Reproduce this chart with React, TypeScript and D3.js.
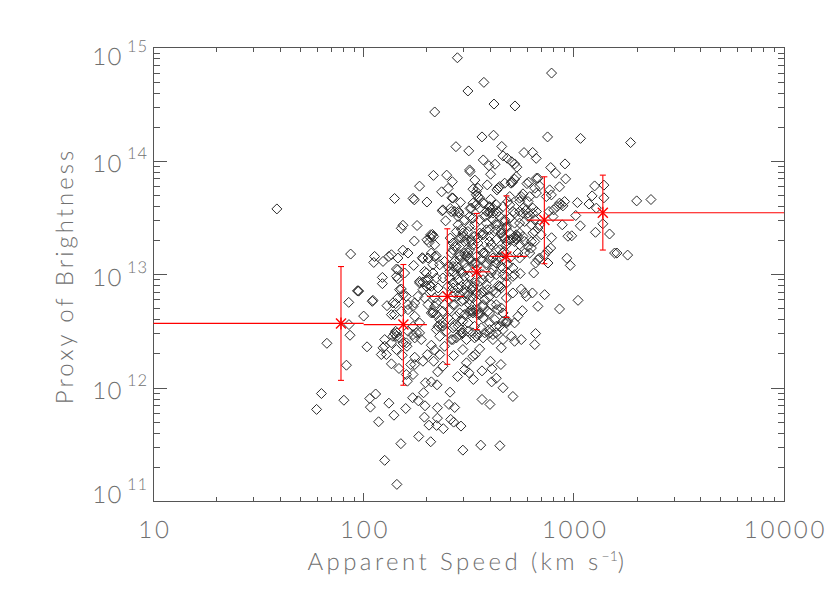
import React from "react";
import * as d3 from "d3";

// Values are [log10 speed in km/s, log10 brightness].
const sparseHigh: number[][] = [
[2.446,14.913],[2.894,14.778],[2.572,14.696],[2.496,14.62],[2.62,14.505],[2.72,14.488],[2.338,14.435],[2.563,14.215],[2.618,14.23],[2.875,14.215],[3.032,14.202],[3.27,14.165],[2.439,14.129],[2.5,14.092],[2.657,14.131],[2.763,14.077],[2.804,14.078],[2.821,14.026],[2.663,14.048],[2.683,14.027],[2.704,13.996],[2.718,13.977],[2.729,13.948],[2.569,14.012],[2.596,13.961],[2.625,13.974],[2.504,13.924],[2.604,13.886],[2.89,13.945],[2.958,13.977],[2.913,13.895],[2.961,13.845],[2.932,13.775],[2.332,13.876],[2.395,13.878],[2.422,13.82],[2.402,13.761],[2.371,13.731],[2.266,13.781],[2.147,13.672],[2.235,13.673],[2.241,13.66],[2.301,13.641],[2.506,13.909],[2.529,13.834],[2.588,13.792],[2.52,13.754],[2.544,13.763],[2.536,13.733],[2.544,13.687],[2.42,13.678],[2.461,13.638],[2.374,13.563],[2.412,13.584],[2.39,13.475],[2.451,13.557],[2.453,13.543],[2.506,13.584],[2.504,13.513],[2.536,13.616],[2.604,13.665],[2.639,13.763],[2.634,13.748],[2.647,13.777],[2.671,13.807],[2.704,13.82],[2.701,13.807],[2.718,13.842],[2.726,13.865],[2.785,13.816],[2.777,13.803],[2.829,13.851],[2.814,13.763],[2.837,13.783],[2.885,13.748],[2.75,13.689],[2.742,13.675],[2.758,13.713],[2.79,13.689],[2.686,13.645],[2.425,13.675],[2.568,13.631],[2.512,13.587],[2.433,13.557],[2.599,13.557],[2.615,13.587]];
const fastSide: number[][] = [
[2.932,13.631],[2.948,13.607],[2.92,13.601],[2.904,13.572],[2.956,13.645],[3.017,13.636],[3.099,13.783],[3.143,13.79],[3.087,13.695],[3.143,13.678],[3.072,13.623],[3.107,13.587],[3.299,13.651],[3.367,13.663],[3.009,13.522],[3.031,13.431],[2.945,13.44],[2.972,13.339],[2.99,13.343],[3.103,13.374],[3.17,13.359],[3.138,13.449],[2.894,13.326],[3.194,13.191],[3.205,13.191],[3.256,13.173],[2.967,13.145],[2.983,13.082],[2.89,13.235],[2.877,13.211],[2.861,13.176],[2.837,13.147],[2.829,13.132],[2.818,13.103],[2.809,13.015],[2.877,13.103],[2.861,12.824],[2.829,12.721],[2.932,12.698],[3.02,12.774],[2.803,12.839],[2.774,12.809],[2.766,12.839],[2.75,12.874],[2.71,12.985],[2.755,12.683],[2.734,12.633],[2.718,12.575],[2.818,12.481],[2.814,12.384],[2.75,12.428],[2.718,12.413],[2.703,12.457],[2.663,12.428],[2.615,12.428],[2.686,12.589],
[2.774,13.572],[2.742,13.557],[2.758,13.543],[2.782,13.543],[2.805,13.587],[2.822,13.557],[2.718,13.543],[2.695,13.499],[2.742,13.455],[2.798,13.44],[2.829,13.411],[2.718,13.337],[2.71,13.323],[2.726,13.314],[2.734,13.337],[2.766,13.293],[2.798,13.293],[2.782,13.249],[2.805,13.367],[2.695,13.367],[2.679,13.411],[2.655,13.367],[2.766,13.191],[2.742,13.147],[2.814,13.381],[2.845,13.352],[2.901,13.513],[2.882,13.557],[2.663,13.601],[2.695,13.616]];
const coreUpper: number[][] = [
[2.417,13.557],[2.449,13.513],[2.48,13.484],[2.552,13.587],[2.584,13.557],[2.647,13.513],[2.631,13.455],[2.615,13.484],[2.655,13.396],[2.679,13.425],[2.671,13.323],[2.631,13.308],[2.599,13.337],[2.568,13.367],[2.528,13.337],[2.489,13.308],[2.441,13.249],[2.417,13.191],[2.457,13.161],[2.48,13.191],[2.504,13.132],[2.441,13.073],[2.465,13.015],[2.48,12.985],[2.568,13.191],[2.599,13.235],[2.631,13.132],[2.584,13.103],[2.615,13.044],[2.655,13.073],[2.679,12.985],[2.718,13.0],[2.647,12.897],[2.655,12.883],[2.71,12.839],[2.631,12.839],[2.568,12.956],[2.591,12.868],[2.56,12.839],[2.52,12.897],[2.48,12.868],[2.425,12.809],[2.472,12.78],[2.504,12.78],[2.552,12.663],[2.544,12.648],[2.568,12.721],[2.599,12.663],[2.639,12.692],[2.679,12.575],[2.465,12.604],[2.433,12.545],[2.472,12.487],[2.536,12.457],[2.576,12.487],
[2.449,13.44],[2.465,13.402],[2.441,13.381],[2.496,13.381],[2.457,13.323],[2.476,13.337],[2.433,13.249],[2.412,13.323],[2.504,13.22],[2.489,13.22],[2.496,13.191],[2.52,13.264],[2.544,13.323],[2.568,13.352],[2.599,13.396],[2.631,13.396],[2.663,13.337],[2.599,13.293],[2.56,13.22],[2.576,13.191],[2.631,13.22],[2.663,13.191],[2.615,13.147],[2.679,13.264],[2.599,13.543],[2.631,13.543],[2.552,13.484],[2.584,13.455],[2.52,13.499]];
const slowerUpper: number[][] = [
[2.187,13.436],[2.179,13.409],[2.254,13.434],[2.327,13.355],[2.317,13.328],[2.301,13.308],[2.311,13.284],[2.241,13.297],[2.338,13.264],[2.346,13.167],[2.187,13.216],[2.211,13.191],[2.279,13.15],[2.322,13.191],[2.132,13.176],[2.425,13.279],[2.472,13.367],[2.512,13.308],[2.489,13.161],[2.433,13.117],[2.536,13.103],[2.377,13.572],[2.52,13.631],
[1.938,13.182],[2.052,13.161],[2.048,13.108],[2.12,13.161],[2.092,13.117],[2.163,13.147],[2.089,12.976],[2.089,12.921],[2.156,13.05],[2.156,12.985],[1.973,12.859],[1.976,12.855],[1.971,12.857],[2.041,12.765],[2.044,12.774],[1.929,12.756],[2.111,12.727],[2.152,12.745],[2.0,12.635],[2.132,12.648],[2.171,12.868]];
const sparseLow: number[][] = [
[1.93,12.56],[1.935,12.466],[1.825,12.395],[2.016,12.364],[1.918,12.202],[1.799,11.952],[2.057,11.948],[2.1,12.428],[2.092,12.355],[2.084,12.296],[2.108,12.296],[2.132,12.399],[2.156,12.34],[2.187,12.399],[2.184,12.29],[2.132,12.214],[2.168,12.173],[2.152,12.501],[2.158,12.487],[2.1,12.369],[2.206,12.369],[2.203,12.12],
[1.906,11.893],[1.776,11.812],[2.029,11.908],[2.032,11.832],[2.12,11.867],[2.2,11.82],[2.144,11.761],[2.071,11.703],[2.177,11.51],[2.1,11.363],[2.158,11.151],[2.262,11.574],[2.319,11.527],[2.472,11.453],[2.557,11.497],[2.648,11.492],[2.233,11.915],[2.26,11.888],[2.292,11.844],[2.285,11.959],[2.294,12.047],[2.322,12.055],[2.349,12.029],[2.411,11.964],[2.351,11.827],[2.406,11.856],[2.433,11.829],[2.289,11.744],[2.351,11.735],[2.311,11.673],[2.347,11.671],[2.379,11.642],[2.414,11.724],[2.428,11.7],[2.463,11.665],[2.563,11.9],[2.601,11.856],[2.71,11.926],[2.663,12.003],[2.609,12.055],[2.631,12.087],[2.522,12.076],[2.48,12.164],[2.501,12.135],[2.447,12.102],[2.563,12.152],[2.61,12.17],[2.603,12.237],[2.653,12.208],[2.489,12.223],[2.428,12.287],[2.531,12.296],[2.52,12.281],[2.552,12.346],[2.472,12.34],[2.352,12.143],[2.377,12.193],[2.235,12.12],[2.208,12.061],[2.243,12.272],[2.224,12.208],[2.243,12.208],[2.282,12.237],[2.303,12.296],[2.322,12.378],[2.338,12.334],[2.362,12.296],[2.333,12.237],[2.385,12.369],[2.425,12.428],[2.203,12.399],[2.274,12.428],[2.235,12.472],[2.251,12.487],[2.544,12.472],[2.599,12.487],[2.655,12.355]];
const coreMiddle: number[][] = [
[2.238,13.082],[2.29,13.029],[2.298,13.015],[2.195,13.015],[2.163,12.965],[2.282,13.141],[2.33,13.088],[2.362,13.088],[2.266,12.927],[2.306,12.956],[2.298,12.897],[2.322,12.897],[2.282,12.868],[2.322,12.853],[2.346,12.971],[2.377,12.971],[2.354,12.883],[2.409,13.029],[2.425,13.073],[2.449,13.059],[2.465,13.029],[2.441,13.0],[2.48,13.103],[2.512,13.117],[2.504,12.912],[2.52,12.883],[2.552,12.941],[2.584,12.912],[2.615,12.853],[2.607,13.015],[2.663,13.0],[2.584,13.088],[2.631,13.103],[2.679,12.927],[2.457,13.132],[2.504,13.147],[2.449,12.883],[2.465,12.897],[2.48,12.839],[2.433,12.839],[2.496,12.824],[2.52,12.795],[2.552,12.824],[2.576,12.78],[2.607,12.736],[2.655,12.707],[2.679,12.795],
[2.33,12.677],[2.346,12.648],[2.322,12.663],[2.362,12.604],[2.377,12.575],[2.354,12.545],[2.393,12.501],[2.338,12.721],[2.504,12.663],[2.52,12.677],[2.568,12.619],[2.496,12.575],[2.472,12.589],[2.449,12.545],[2.465,12.487],[2.441,12.443],[2.599,12.575],[2.631,12.545],[2.663,12.589],[2.615,12.472],[2.568,12.443],[2.528,12.443],[2.489,12.428],
[2.139,12.751],[2.163,12.795],[2.187,12.824],[2.211,12.736],[2.147,12.648],[2.179,12.677],[2.243,12.633],[2.266,12.575],[2.235,12.545],[2.266,12.487],[2.139,12.457],[2.171,12.443],[2.211,12.501],[2.243,12.443],[2.29,12.795],[2.306,12.736],[2.338,12.795],[2.385,12.736],[2.425,12.736],[2.258,12.809],[2.243,12.751],[2.457,12.824],[2.425,12.883],[2.401,12.897],[2.385,13.117],[2.33,13.015],[2.203,12.809],[2.235,12.721],[2.211,12.692],[2.179,12.874],[2.346,12.751],[2.377,12.809],[2.512,12.692],[2.457,12.663],[2.409,12.604],[2.362,12.457],[2.417,12.428],[2.465,12.516],[2.52,12.487],[2.266,12.941],[2.306,13.147],[2.338,13.161],[2.319,13.352],[2.333,13.337],[2.163,13.044]];
const denseLower: number[][] = [
[2.409,12.971],[2.425,12.927],[2.449,12.956],[2.489,12.912],[2.512,12.868],[2.536,12.839],[2.568,12.853],[2.599,12.809],[2.631,12.736],[2.663,12.663],[2.679,12.589],[2.647,12.545],[2.624,12.604],[2.591,12.677],[2.568,12.736],[2.536,12.765],[2.504,12.736],[2.465,12.765],[2.433,12.736],[2.409,12.692],[2.377,12.677],[2.401,12.619],[2.441,12.633],[2.48,12.648],[2.425,12.531],[2.457,12.472],[2.496,12.501],[2.528,12.545],[2.56,12.531],[2.599,12.516],[2.631,12.487],[2.663,12.516],[2.536,13.044],[2.568,13.0],[2.599,12.971],[2.631,13.0],[2.663,13.059],[2.686,13.088],[2.504,12.985],[2.528,12.927],[2.425,13.029],[2.401,13.073],[2.433,13.117],[2.489,13.059],[2.528,13.103],[2.56,13.132],[2.599,13.132],[2.647,13.147],[2.649,12.897],[2.641,12.905],[2.504,12.68],[2.52,12.663],[2.536,12.68],[2.552,12.648],[2.33,12.663],[2.362,12.56],[2.377,12.545],[2.346,12.516],[2.147,12.48],[2.156,12.457],[2.282,12.935],[2.298,12.95],[2.314,12.906]];
const denseUpper: number[][] = [
[2.48,13.293],[2.544,13.279],[2.584,13.396],[2.615,13.543],[2.639,13.557],[2.599,13.601],[2.576,13.513],[2.631,13.44],[2.671,13.484],[2.655,13.367],[2.679,13.293],[2.607,13.264],[2.647,13.22],[2.504,13.425],[2.528,13.44],[2.552,13.367],[2.465,13.323],[2.512,13.293],[2.425,13.22],[2.457,13.176],[2.536,13.161],
[2.708,13.815],[2.695,13.689],[2.742,13.645],[2.758,13.587],[2.71,13.557],[2.782,13.645],[2.822,13.72],[2.869,13.689],[2.94,13.62],[2.671,13.469],[2.718,13.455],[2.766,13.469],[2.814,13.484],[2.837,13.44],[2.695,13.308],[2.718,13.293],[2.742,13.264],[2.726,13.352],[2.758,13.337],[2.798,13.235],[2.79,13.191],[2.814,13.293],[2.734,13.191],[2.668,13.205],[2.695,13.147],[2.71,13.06],[2.745,13.01],
[2.599,13.59],[2.631,13.617],[2.536,13.705],[2.552,13.675],[2.822,13.851],[2.893,13.704],[2.805,13.54],[2.782,13.513],[2.742,13.367]];
const outlier: number[][] = [[1.587,13.58]];

// Binned means (red)
const binSpeed = [78, 154.5, 250, 345, 477.6, 724, 1374];
const binLow = [10, 100, 200, 300, 400, 600, 1000];
const binHigh = [100, 200, 300, 400, 600, 1000, 10000];
const binMean = [3.72e12, 3.63e12, 6.44e12, 1.06e13, 1.45e13, 3.03e13, 3.52e13];
const binUp = [1.18e13, 1.23e13, 2.54e13, 3.47e13, 4.96e13, 7.3e13, 7.55e13];
const binDown = [1.17e12, 1.06e12, 1.62e12, 3.28e12, 4.2e12, 1.25e13, 1.65e13];

const xDecades = [10, 100, 1000, 10000];
const yExponents = [11, 12, 13, 14, 15];
const minorSteps = [2, 3, 4, 5, 6, 7, 8, 9];
// Baseline of each y tick label, as placed unevenly in the original.
const yLabelBaseline: Record<number, number> = { 15: 65, 14: 171.5, 13: 286, 12: 399, 11: 503 };

const x = d3.scaleLog().domain([10, 10000]).range([153.5, 784]);
const y = d3.scaleLog().domain([1e11, 1e15]).range([501.5, 47.9]);

const groups = [outlier, sparseHigh, fastSide, coreUpper, slowerUpper, sparseLow, coreMiddle, denseLower, denseUpper];
const points = groups.flat();
const diamond = d3.line()([[0, -5], [5, 0], [0, 5], [-5, 0]]) + "Z";

const axisColor = "#555";
const textColor = "#707070";
const font = "Lato, 'Open Sans', sans-serif";

export default function App() {
  const xMinor = xDecades.slice(0, -1).flatMap((d) => minorSteps.map((m) => d * m));
  const yMinor = yExponents.slice(0, -1).flatMap((e) => minorSteps.map((m) => m * 10 ** e));
  const [x0, x1] = x.range();
  const [y0, y1] = y.range();
  return (
    <svg width={830} height={599} style={{ position: "absolute", left: 0, top: 0, background: "#fff" }}>
      <g stroke={axisColor} strokeWidth={1} fill="none" shapeRendering="crispEdges">
        <rect x={x0} y={y1} width={x1 - x0} height={y0 - y1} />
        {xDecades.map((d) => (
          <g key={d}>
            <line x1={x(d)} x2={x(d)} y1={y0} y2={y0 - 9} />
            <line x1={x(d)} x2={x(d)} y1={y1} y2={y1 + 9} />
          </g>
        ))}
        {xMinor.map((d) => (
          <g key={d}>
            <line x1={x(d)} x2={x(d)} y1={y0} y2={y0 - 4.5} />
            <line x1={x(d)} x2={x(d)} y1={y1} y2={y1 + 4.5} />
          </g>
        ))}
        {yExponents.map((e) => (
          <g key={e}>
            <line x1={x0} x2={x0 + 13} y1={y(10 ** e)} y2={y(10 ** e)} />
            <line x1={x1} x2={x1 - 13} y1={y(10 ** e)} y2={y(10 ** e)} />
          </g>
        ))}
        {yMinor.map((d) => (
          <g key={d}>
            <line x1={x0} x2={x0 + 6.5} y1={y(d)} y2={y(d)} />
            <line x1={x1} x2={x1 - 6.5} y1={y(d)} y2={y(d)} />
          </g>
        ))}
      </g>

      <g fill="none" stroke="#2a2a2a" strokeWidth={1}>
        {points.map(([s, b], i) => (
          <path key={i} d={diamond} transform={`translate(${x(10 ** s)},${y(10 ** b)})`} />
        ))}
      </g>

      <g stroke="#f00" strokeWidth={1.1} fill="none">
        {binSpeed.map((s, i) => {
          const cx = x(s);
          const cy = y(binMean[i]);
          return (
            <g key={i}>
              <line x1={x(binLow[i])} x2={x(binHigh[i])} y1={cy} y2={cy} />
              <line x1={cx} x2={cx} y1={y(binUp[i])} y2={y(binDown[i])} />
              <line x1={cx - 3} x2={cx + 3} y1={y(binUp[i])} y2={y(binUp[i])} />
              <line x1={cx - 3} x2={cx + 3} y1={y(binDown[i])} y2={y(binDown[i])} />
              <line x1={cx - 5} x2={cx + 5} y1={cy - 5} y2={cy + 5} strokeWidth={1.4} />
              <line x1={cx - 5} x2={cx + 5} y1={cy + 5} y2={cy - 5} strokeWidth={1.4} />
              <line x1={cx} x2={cx} y1={cy - 6} y2={cy + 6} strokeWidth={1.4} />
            </g>
          );
        })}
      </g>

      <g fontFamily={font} fontWeight={300} fill={textColor} textRendering="geometricPrecision">
        {xDecades.map((d) => (
          <text key={d} x={x(d) + 1.5} y={538} fontSize={24} textAnchor="middle" letterSpacing={2.8}>
            {d}
          </text>
        ))}
        {yExponents.map((e) => (
          <g key={e}>
            <text x={123} y={yLabelBaseline[e]} fontSize={24} textAnchor="end" letterSpacing={1.5}>
              10
            </text>
            <text x={127} y={yLabelBaseline[e] - 13} fontSize={16.5} letterSpacing={1}>
              {e}
            </text>
          </g>
        ))}
        <text x={467.5} y={570} fontSize={24} textAnchor="middle" letterSpacing={3.4}>
          Apparent Speed (km s
          <tspan dy={-9} fontSize={14} letterSpacing={0}>−1</tspan>
          <tspan dy={9}>)</tspan>
        </text>
        <text transform="translate(73,276) rotate(-90)" fontSize={24} textAnchor="middle" letterSpacing={3}>
          Proxy of Brightness
        </text>
      </g>
    </svg>
  );
}
